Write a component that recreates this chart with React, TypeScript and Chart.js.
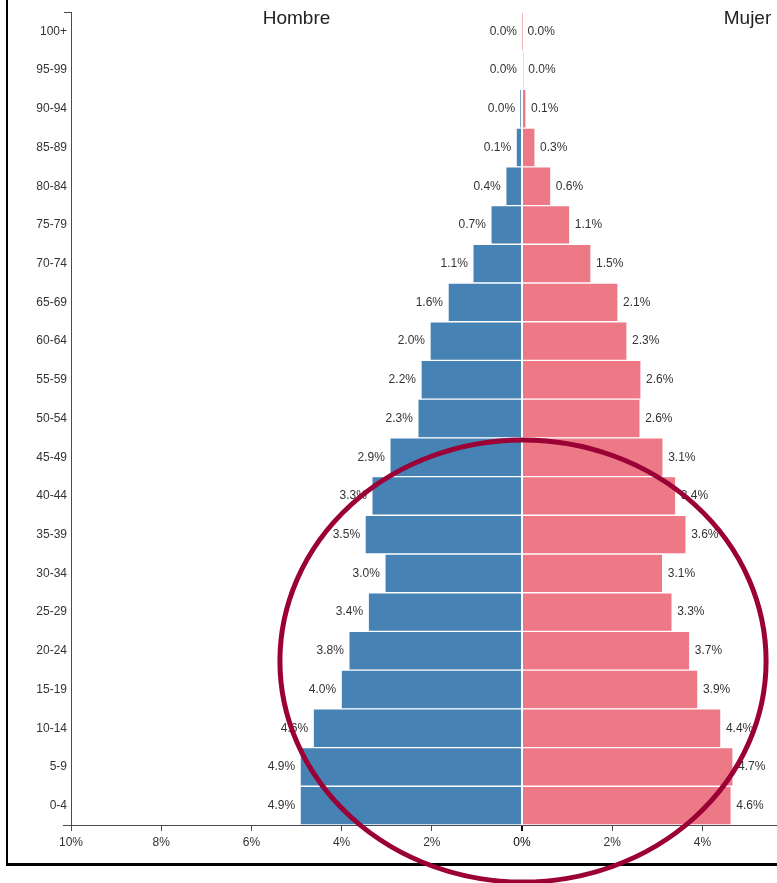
import { useEffect, useRef } from 'react';
import { Chart, registerables } from 'chart.js';

Chart.register(...registerables);

const AGE_GROUPS = ['100+', '95-99', '90-94', '85-89', '80-84', '75-79', '70-74', '65-69', '60-64', '55-59', '50-54', '45-49', '40-44', '35-39', '30-34', '25-29', '20-24', '15-19', '10-14', '5-9', '0-4'];
const MALE = [0, 0, 0.04, 0.13, 0.36, 0.69, 1.09, 1.64, 2.04, 2.24, 2.31, 2.93, 3.33, 3.48, 3.04, 3.41, 3.84, 4.01, 4.63, 4.92, 4.92];
const FEMALE = [0.01, 0.03, 0.09, 0.29, 0.64, 1.06, 1.53, 2.13, 2.33, 2.64, 2.62, 3.13, 3.41, 3.64, 3.12, 3.33, 3.72, 3.9, 4.41, 4.68, 4.64];
const SIDE_TITLES = ['Hombre', 'Mujer'];
const X_MIN = -10;
const X_MAX = 10;
const X_STEP = 2;

const FAMILY = '"Liberation Sans", Arial, sans-serif';
const BLUE = '#4682b4';
const PINK = '#ee7986';
const AXIS = '#4a4a55';

const overlay = {
  id: 'overlay',
  afterDatasetsDraw(chart: any) {
    const ctx = chart.ctx;
    const x = chart.scales.x;
    ctx.save();
    ctx.font = `12px ${FAMILY}`;
    ctx.fillStyle = '#333';
    ctx.textBaseline = 'middle';
    chart.data.datasets.forEach((ds: any, di: number) => {
      const meta = chart.getDatasetMeta(di);
      const src = di === 0 ? MALE : FEMALE;
      meta.data.forEach((el: any, i: number) => {
        const txt = src[i].toFixed(1) + '%';
        if (di === 0) {
          ctx.textAlign = 'right';
          ctx.fillText(txt, el.x - 5, el.y);
        } else {
          ctx.textAlign = 'left';
          ctx.fillText(txt, el.x + 5, el.y);
        }
      });
    });
    // titles
    ctx.font = `19px ${FAMILY}`;
    ctx.fillStyle = '#222';
    ctx.textAlign = 'center';
    ctx.fillText(SIDE_TITLES[0], x.getPixelForValue(-5), chart.chartArea.top + 7);
    ctx.fillText(SIDE_TITLES[1], x.getPixelForValue(5), chart.chartArea.top + 7);
    ctx.restore();
  },
  afterDraw(chart: any) {
    const ctx = chart.ctx;
    const { left, top, bottom } = chart.chartArea;
    const x = chart.scales.x;
    ctx.save();
    // outer ticks of y axis
    ctx.strokeStyle = AXIS;
    ctx.lineWidth = 1;
    ctx.beginPath();
    ctx.moveTo(left - 7, top + 0.5);
    ctx.lineTo(left, top + 0.5);
    ctx.moveTo(left - 8, bottom + 0.5);
    ctx.lineTo(left, bottom + 0.5);
    ctx.stroke();
    // frame
    ctx.fillStyle = '#000';
    ctx.fillRect(6, 0, 2, 866);
    ctx.fillRect(6, 863, chart.width, 3);
    // annotation ellipse
    const cx = x.getPixelForValue(0);
    const unit = x.getPixelForValue(1) - x.getPixelForValue(0);
    ctx.strokeStyle = '#9b0036';
    ctx.lineWidth = 5;
    ctx.beginPath();
    ctx.ellipse(cx + 1, bottom - 164, unit * 5.39, 221, 0, 0, Math.PI * 2);
    ctx.stroke();
    ctx.restore();
  },
};

export default function App() {
  const ref = useRef<HTMLCanvasElement>(null);
  useEffect(() => {
    const chart = new Chart(ref.current as HTMLCanvasElement, {
      type: 'bar',
      data: {
        labels: AGE_GROUPS,
        datasets: [
          {
            label: SIDE_TITLES[0],
            data: MALE.map((v) => -v),
            backgroundColor: BLUE,
            borderColor: 'rgba(255,255,255,0.8)',
            borderWidth: 1,
            barPercentage: 1,
            categoryPercentage: 1,
          },
          {
            label: SIDE_TITLES[1],
            data: FEMALE,
            backgroundColor: PINK,
            borderColor: 'rgba(255,255,255,0.7)',
            borderWidth: 1,
            barPercentage: 1,
            categoryPercentage: 1,
          },
        ],
      },
      options: {
        indexAxis: 'y',
        responsive: false,
        animation: false,
        layout: { padding: { top: 12, right: 27, left: 0, bottom: 0 } },
        plugins: { legend: { display: false }, tooltip: { enabled: false } },
        scales: {
          x: {
            type: 'linear',
            min: X_MIN,
            max: X_MAX,
            ticks: {
              stepSize: X_STEP,
              autoSkip: false,
              maxRotation: 0,
              padding: 4,
              font: { size: 12, family: FAMILY },
              color: (c: any) => (c.tick && c.tick.value === 0 ? '#000' : '#333'),
              callback: (v: any) => Math.abs(Number(v)) + '%',
            },
            grid: {
              drawOnChartArea: false,
              drawTicks: true,
              tickLength: 6,
              color: (c: any) => (c.tick && c.tick.value === 0 ? '#000' : AXIS),
              lineWidth: (c: any) => (c.tick && c.tick.value === 0 ? 2 : 1),
            },
            border: { color: AXIS, width: 1 },
            afterFit: (s: any) => {
              s.height = 58;
            },
          },
          y: {
            stacked: true,
            ticks: { autoSkip: false, padding: 4, color: '#333', font: { size: 12, family: FAMILY } },
            grid: { display: false, drawTicks: false },
            border: { color: AXIS, width: 1 },
            afterFit: (s: any) => {
              s.width = 71;
            },
          },
        },
      },
      plugins: [overlay],
    } as any);
    return () => chart.destroy();
  }, []);

  return (
    <div style={{ position: 'fixed', left: 0, top: 0, width: 777, height: 883, overflow: 'hidden', background: '#fff' }}>
      <canvas ref={ref} width={1000} height={883} style={{ display: 'block' }} />
    </div>
  );
}
